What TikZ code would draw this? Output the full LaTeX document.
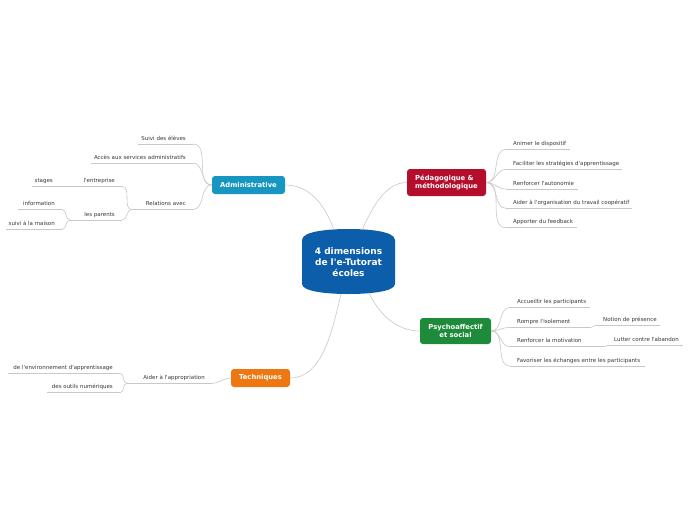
\documentclass[tikz,border=0pt]{standalone}
\usepackage{fontspec}
\setmainfont{DejaVu Sans}
\definecolor{cblue}{RGB}{13,94,170}
\definecolor{admc}{RGB}{22,150,192}
\definecolor{pedc}{RGB}{181,13,44}
\definecolor{psyc}{RGB}{30,139,59}
\definecolor{tecc}{RGB}{238,119,17}
\definecolor{leafg}{RGB}{55,55,55}
\definecolor{lineg}{RGB}{200,200,200}
\newcommand\ap{\textquotesingle}
\newcommand\leafR[5]{%
  \coordinate (#1s) at (#2,#4); \coordinate (#1e) at (#3,#4);
  \draw[conn] (#1s) -- (#1e);
  \node[leaf,anchor=base west] (#1) at (#2+7,#4-3.8) {#5};}
\newcommand\leafL[5]{%
  \coordinate (#1s) at (#2,#4); \coordinate (#1e) at (#3,#4);
  \draw[conn] (#1s) -- (#1e);
  \node[leaf,anchor=base east] (#1) at (#3-7,#4-3.8) {#5};}
\begin{document}
\begin{tikzpicture}[x=1pt,y=-1pt,
  conn/.style={draw=lineg,line width=0.6pt},
  leaf/.style={text=leafg,font=\fontsize{5.5}{6.5}\selectfont,inner sep=0pt},
  mainbox/.style={rounded corners=3pt,text=white,font=\bfseries\fontsize{6.8}{8.5}\selectfont,align=center,inner sep=0pt}]
\useasboundingbox[fill=white] (0,0) rectangle (696,520);

% central barrel
\fill[cblue] (302,240) .. controls (302,231) and (330,229) .. (348.5,229) .. controls (367,229) and (395,231) .. (395,240) -- (395,284) .. controls (395,292) and (367,294) .. (348.5,294) .. controls (330,294) and (302,292) .. (302,284) -- cycle;
\node[text=white,font=\bfseries\fontsize{9}{11}\selectfont,align=center,inner sep=0pt] (c) at (348.5,262) {4 dimensions\\de l\ap e-Tutorat\\écoles};
\coordinate (cA) at (334,230);
\coordinate (cP) at (362,230);
\coordinate (cS) at (369,293);
\coordinate (cT) at (341,294);

% main boxes
\node[mainbox,fill=admc,minimum width=73pt,minimum height=18pt] (adm) at (248.5,185) {Administrative};
\node[mainbox,fill=pedc,minimum width=79pt,minimum height=27pt,align=left] (ped) at (446.5,182.5) {Pédagogique \&\\méthodologique};
\node[mainbox,fill=psyc,minimum width=71pt,minimum height=26pt] (psy) at (455.5,331) {Psychoaffectif\\et social};
\node[mainbox,fill=tecc,minimum width=59pt,minimum height=18pt] (tec) at (260.5,378) {Techniques};

% connectors from centre
\draw[conn] (adm.east) .. controls (315,185) and (328,214) .. (cA);
\draw[conn] (cP) .. controls (372,208) and (385,182.5) .. (ped.west);
\draw[conn] (cS) .. controls (378,312) and (395,331) .. (psy.west);
\draw[conn] (cT) .. controls (332,332) and (322,378) .. (tec.east);

% Administrative
\leafL{a1}{138}{193}{144}{Suivi des élèves}
\leafL{a2}{91}{193}{163}{Accès aux services administratifs}
\leafL{a3}{132}{193}{209.5}{Relations avec}
\foreach \n in {a1,a2,a3} \draw[conn] (\n e) to[out=0,in=180] (adm.west);
\leafL{a31}{60}{122}{186.5}{l\ap entreprise}
\leafL{a311}{32}{60}{186.5}{stages}
\leafL{a32}{70}{122}{220}{les parents}
\draw[conn] (a31e) to[out=0,in=180] (a3s);
\draw[conn] (a32e) to[out=0,in=180] (a3s);
\leafL{a321}{18}{62}{209.5}{information}
\leafL{a322}{6}{62}{229.5}{suivi à la maison}
\draw[conn] (a321e) to[out=0,in=180] (a32s);
\draw[conn] (a322e) to[out=0,in=180] (a32s);

% Pedagogique
\leafR{p1}{506}{570}{149.5}{Animer le dispositif}
\leafR{p2}{506}{622}{169.3}{Faciliter les stratégies d\ap apprentissage}
\leafR{p3}{506}{578}{189}{Renforcer l\ap autonomie}
\leafR{p4}{506}{632}{208.3}{Aider à l\ap organisation du travail coopératif}
\leafR{p5}{506}{577}{227.7}{Apporter du feedback}
\foreach \n in {p1,p2,p3,p4,p5} \draw[conn] (ped.east) to[out=0,in=180] (\n s);

% Psychoaffectif
\leafR{s1}{510}{590}{307.3}{Accueillir les participants}
\leafR{s2}{510}{591}{327.3}{Rompre l\ap isolement}
\leafR{s3}{510}{604}{346.7}{Renforcer la motivation}
\leafR{s4}{510}{645}{366}{Favoriser les échanges entre les participants}
\foreach \n in {s1,s2,s3,s4} \draw[conn] (psy.east) to[out=0,in=180] (\n s);
\leafR{s21}{596}{660}{325.3}{Notion de présence}
\leafR{s31}{607}{683}{345.7}{Lutter contre l\ap abandon}
\draw[conn] (s2e) to[out=0,in=180] (s21s);
\draw[conn] (s3e) to[out=0,in=180] (s31s);

% Techniques
\leafL{t1}{127}{212}{383.3}{Aider à l\ap appropriation}
\draw[conn] (t1e) to[out=0,in=180] (tec.west);
\leafL{t11}{8}{120}{373.3}{de l\ap environnement d\ap apprentissage}
\leafL{t12}{47}{120}{392.7}{des outils numériques}
\draw[conn] (t11e) to[out=0,in=180] (t1s);
\draw[conn] (t12e) to[out=0,in=180] (t1s);
\end{tikzpicture}
\end{document}
